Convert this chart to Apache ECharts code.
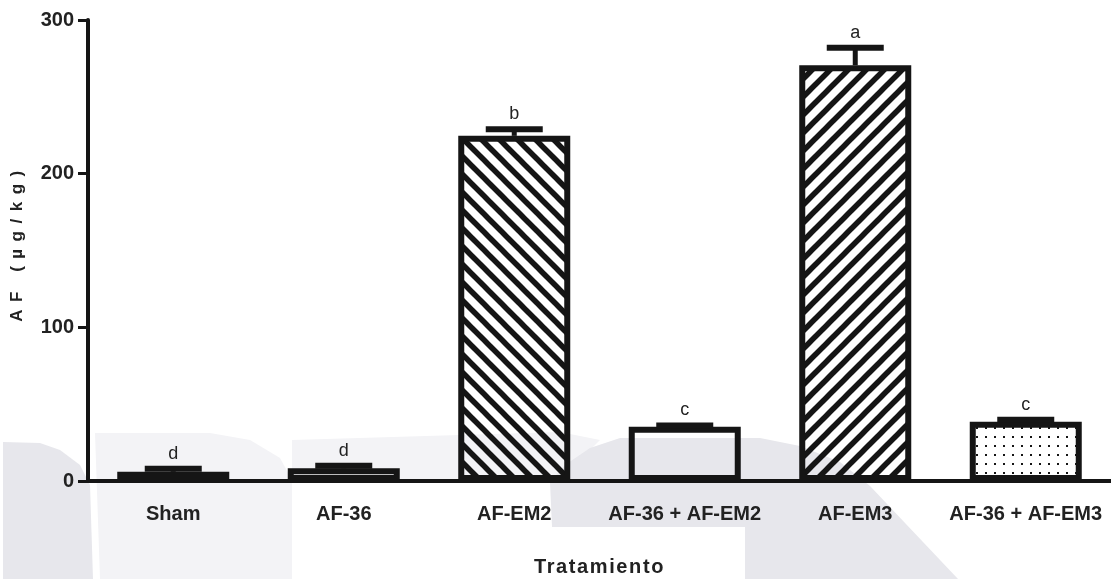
<!DOCTYPE html>
<html>
<head>
<meta charset="utf-8">
<script src="https://cdn.jsdelivr.net/npm/echarts@6/dist/echarts.min.js"></script>
<style>
  html, body { margin: 0; padding: 0; background: #ffffff; }
  #chart { width: 1111px; height: 579px; }
</style>
</head>
<body>
<div id="chart"></div>
<script>
// Treatment groups and measured AF concentration (µg/kg), mean ± SEM
const categories = ['Sham', 'AF-36', 'AF-EM2', 'AF-36 + AF-EM2', 'AF-EM3', 'AF-36 + AF-EM3'];
const means = [6, 8.3, 224.6, 35.3, 270.5, 38.5];
const sems = [2, 1.6, 4.3, 0.8, 11.5, 1.3];
const groupLetters = ['d', 'd', 'b', 'c', 'a', 'c'];
const fillKinds = ['plain', 'plain', 'back', 'plain', 'forward', 'dots'];
const yTicks = [0, 100, 200, 300];
const yTitle = 'AF (µg/kg)';
const xTitle = 'Tratamiento';

const INK = '#151515';
const TEXT = '#222222';
const FONT = '"Liberation Sans", Arial, sans-serif';

// extra tracking (px) for the axis titles, applied only while the canvas draws them
const tracking = {};
tracking[yTitle] = 7.5;
tracking[xTitle] = 1.6;
const nativeFillText = CanvasRenderingContext2D.prototype.fillText;
CanvasRenderingContext2D.prototype.fillText = function (txt, x, y, maxW) {
  const sp = tracking[txt];
  const spaced = sp ? sp + 'px' : '0px';
  if ('letterSpacing' in this && this.letterSpacing !== spaced) {
    const f = this.font;
    this.letterSpacing = spaced;
    this.font = f;
  }
  return maxW === undefined ? nativeFillText.call(this, txt, x, y) : nativeFillText.call(this, txt, x, y, maxW);
};

// hatch tiles for the bar fills
function hatchTile(dir) {
  const s = 18;
  const c = document.createElement('canvas');
  c.width = c.height = s;
  const g = c.getContext('2d');
  g.strokeStyle = INK;
  g.lineWidth = 5.5;
  for (let k = -1; k <= 1; k++) {
    g.beginPath();
    if (dir === 'back') {
      g.moveTo(k * s - s, -s);
      g.lineTo(k * s + 2 * s, 2 * s);
    } else {
      g.moveTo(k * s - s, 2 * s);
      g.lineTo(k * s + 2 * s, -s);
    }
    g.stroke();
  }
  return c;
}
function dotTile() {
  const c = document.createElement('canvas');
  c.width = 9; c.height = 9;
  const g = c.getContext('2d');
  g.fillStyle = INK;
  g.fillRect(4, 4, 2, 2);
  return c;
}
const fills = {
  plain: 'rgba(255,255,255,0)',
  back: { image: hatchTile('back'), repeat: 'repeat' },
  forward: { image: hatchTile('forward'), repeat: 'repeat' },
  dots: { image: dotTile(), repeat: 'repeat' }
};

// faint background emblem
const shadeDark = '#e7e7ec';
const shadeLight = '#f3f3f6';
const emblem = [
  { fill: shadeLight, pts: [[95,433],[210,433],[250,440],[280,458],[292,480],[292,579],[100,579]] },
  { fill: shadeLight, pts: [[292,440],[560,432],[600,440],[560,480],[292,480]] },
  { fill: shadeDark, pts: [[3,442],[40,443],[60,450],[80,465],[90,485],[93,579],[3,579]] },
  { fill: shadeDark, pts: [[550,482],[552,527],[745,527],[745,579],[958,579],[870,486],[840,462],[800,446],[760,438],[620,438],[590,448],[565,465]] }
];

const chart = echarts.init(document.getElementById('chart'), null, { renderer: 'canvas' });

chart.setOption({
  animation: false,
  backgroundColor: '#ffffff',
  graphic: {
    elements: emblem.map(p => ({
      type: 'polygon', z: -10, silent: true,
      shape: { points: p.pts },
      style: { fill: p.fill }
    }))
  },
  grid: { left: 88, right: 0, top: 20, bottom: 98, containLabel: false, outerBoundsMode: 'none' },
  xAxis: {
    type: 'category',
    data: categories,
    axisLine: { lineStyle: { color: INK, width: 4 } },
    axisTick: { alignWithLabel: true, length: 12, lineStyle: { color: INK, width: 3 } },
    axisLabel: { interval: 0, margin: 23, fontSize: 20, fontWeight: 'bold', color: TEXT, fontFamily: FONT },
    name: xTitle,
    nameLocation: 'middle',
    nameGap: 76,
    nameTextStyle: { fontSize: 20, fontWeight: 'bold', color: TEXT, fontFamily: FONT }
  },
  yAxis: {
    type: 'value',
    min: yTicks[0],
    max: yTicks[yTicks.length - 1],
    interval: yTicks[1] - yTicks[0],
    axisLine: { show: true, lineStyle: { color: INK, width: 4 } },
    axisTick: { show: true, length: 10, lineStyle: { color: INK, width: 3 } },
    splitLine: { show: false },
    axisLabel: { margin: 14, fontSize: 20, fontWeight: 'bold', color: TEXT, fontFamily: FONT },
    name: yTitle,
    nameLocation: 'middle',
    nameRotate: 90,
    nameGap: 62,
    nameTextStyle: { fontSize: 17, fontWeight: 'bold', color: TEXT, fontFamily: FONT, padding: [0, 0, 0, 16] }
  },
  series: [
    {
      type: 'bar',
      barWidth: 112,
      z: 3,
      itemStyle: { borderColor: INK, borderWidth: 6 },
      data: means.map((v, i) => ({ value: v, itemStyle: { color: fills[fillKinds[i]] } }))
    },
    {
      type: 'custom',
      z: 4,
      encode: { x: 0, y: 1 },
      data: means.map((v, i) => [i, v, sems[i]]),
      renderItem: function (params, api) {
        const i = api.value(0);
        const m = api.value(1);
        const e = api.value(2);
        const base = api.coord([i, m]);
        const top = api.coord([i, m + e]);
        const capW = 57, capH = 6, stemW = 5;
        return {
          type: 'group',
          children: [
            { type: 'rect', shape: { x: top[0] - stemW / 2, y: top[1], width: stemW, height: Math.max(0, base[1] - top[1]) }, style: { fill: INK } },
            { type: 'rect', shape: { x: top[0] - capW / 2, y: top[1] - capH / 2, width: capW, height: capH }, style: { fill: INK } },
            { type: 'text', style: { text: groupLetters[i], x: top[0], y: top[1] - capH / 2 - 3, align: 'center', verticalAlign: 'bottom', font: '18px "Liberation Sans Narrow", "Liberation Sans", sans-serif', fill: TEXT } }
          ]
        };
      }
    }
  ]
});
</script>
</body>
</html>
